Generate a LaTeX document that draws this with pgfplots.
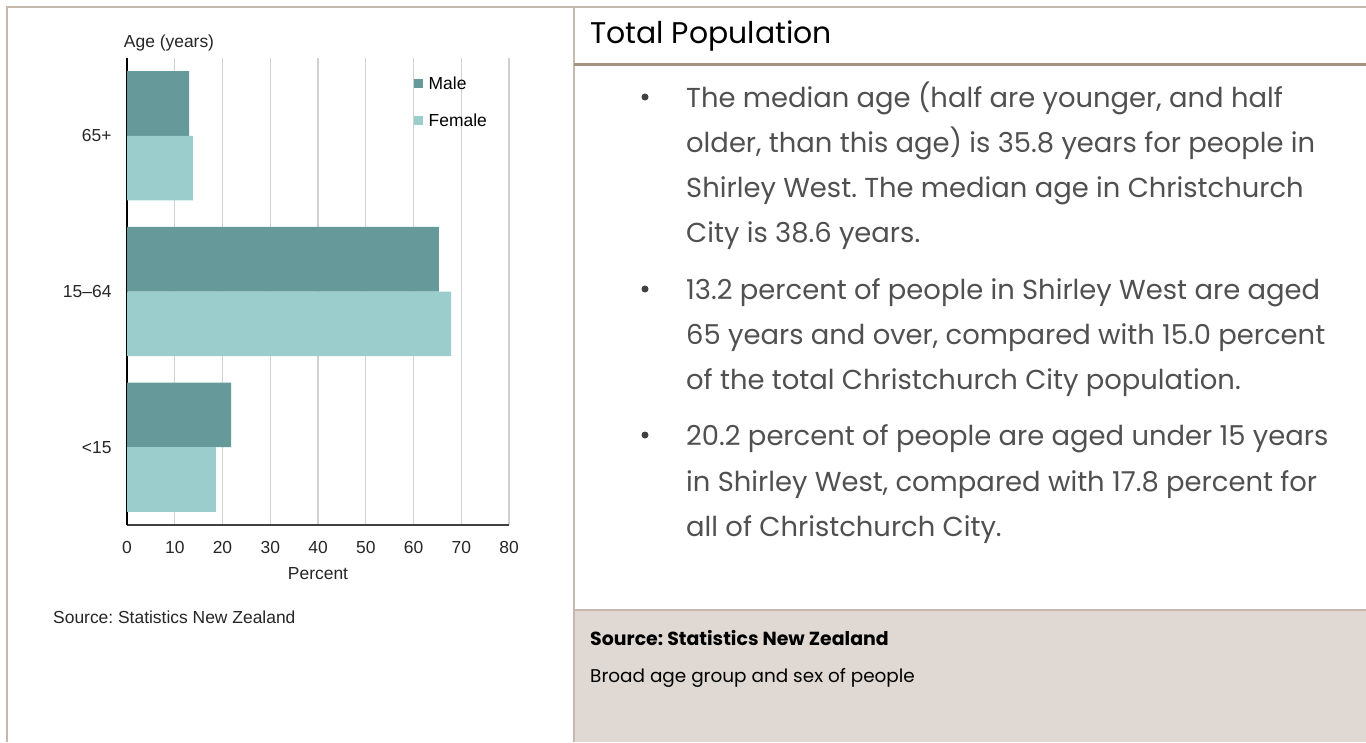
\documentclass[border=0pt]{standalone}
\usepackage{fontspec}
\setmainfont{Liberation Sans}
\newfontfamily\rfont{Poppins}
\usepackage{pgfplots}
\pgfplotsset{compat=1.18}
\definecolor{male}{RGB}{102,153,153}
\definecolor{female}{RGB}{156,205,205}
\definecolor{frame}{RGB}{196,185,172}
\definecolor{hdr}{RGB}{163,148,128}
\definecolor{boxbg}{RGB}{224,217,211}
\definecolor{txt}{RGB}{80,80,80}
\definecolor{gridc}{RGB}{208,208,208}
\frenchspacing
\begin{document}
\begin{tikzpicture}[x=1bp,y=-1bp]
\useasboundingbox (0,0) rectangle (1366,742);
\fill[white] (0,0) rectangle (1366,742);
\fill[boxbg] (574,610) rectangle (1366,742);
\draw[frame,line width=2bp] (7,742) -- (7,7) -- (1366,7);
\draw[frame,line width=2bp] (574,7) -- (574,742);
\draw[frame,line width=2bp] (574,610) -- (1366,610);
\draw[hdr,line width=3bp] (574,64.5) -- (1366,64.5);

\begin{axis}[
  at={(127bp,-525bp)}, anchor=south west,
  scale only axis, width=382bp, height=467bp,
  xmin=0, xmax=80, ymin=-0.5, ymax=2.5, y dir=reverse,
  xbar, bar width=0.415,
  xtick={0,10,...,80}, ytick={0,1,2},
  yticklabels={65+,15--64,{<15}},
  axis lines*=left,
  x axis line style={black!75, line width=1.5bp},
  y axis line style={black, line width=1.5bp},
  major tick length=0pt,
  xmajorgrids, grid style={gridc, line width=1.3bp},
  /pgf/number format/assume math mode=true,
  tick label style={font=\fontsize{17.5}{20}\selectfont, text=black!85},
  xticklabel style={yshift=-13bp},
  yticklabel style={xshift=-12bp},
  xlabel={Percent},
  xlabel style={font=\fontsize{17.5}{20}\selectfont, text=black!85, yshift=-7bp},
  legend style={at={(0.75,0.965)}, anchor=north west, draw=none, fill=none,
    font=\fontsize{17.5}{20}\selectfont, row sep=19bp, inner sep=0pt,
    /tikz/every odd column/.append style={column sep=4bp}},
  legend cell align=left,
  legend image code/.code={\fill (0bp,-4.5bp) rectangle (9bp,4.5bp);},
]
\addplot[fill=male, draw=none, bar shift=-0.2075] coordinates {(13.0,0) (65.3,1) (21.8,2)};
\addplot[fill=female, draw=none, bar shift=0.2075] coordinates {(13.8,0) (67.9,1) (18.6,2)};
\legend{Male,Female}
\end{axis}

\node[font=\fontsize{17.5}{20}\selectfont, text=black!85] at (169,43) {Age (years)};
\node[font=\fontsize{17.5}{20}\selectfont, text=black!85, anchor=west, inner sep=0] at (53,617) {Source: Statistics New Zealand};

\node[anchor=base west, font=\rfont\fontsize{30}{34}\selectfont, inner sep=0] at (590,44) {Total Population};
\foreach \y/\t in {
 97/{The median age (half are younger, and half},
 142/{older, than this age) is 35.8 years for people in},
 187/{Shirley West. The median age in Christchurch},
 232/{City is 38.6 years.},
 289/{13.2 percent of people in Shirley West are aged},
 334/{65 years and over, compared with 15.0 percent},
 379/{of the total Christchurch City population.},
 435/{20.2 percent of people are aged under 15 years},
 481/{in Shirley West, compared with 17.8 percent for},
 526/{all of Christchurch City.}}{
 \node[anchor=base west, inner sep=0, text=txt, font=\rfont\fontsize{27.5}{32}\selectfont] at (686,\y+10) {\t};
}
\foreach \y in {97,289,435} {\fill[txt!80!black] (645,\y) circle (3.5);}
\node[anchor=base west, inner sep=0, font=\rfont\bfseries\fontsize{19}{22}\selectfont] at (590,645) {Source: Statistics New Zealand};
\node[anchor=base west, inner sep=0, font=\rfont\fontsize{18.5}{22}\selectfont] at (590,682) {Broad age group and sex of people};
\end{tikzpicture}
\end{document}
